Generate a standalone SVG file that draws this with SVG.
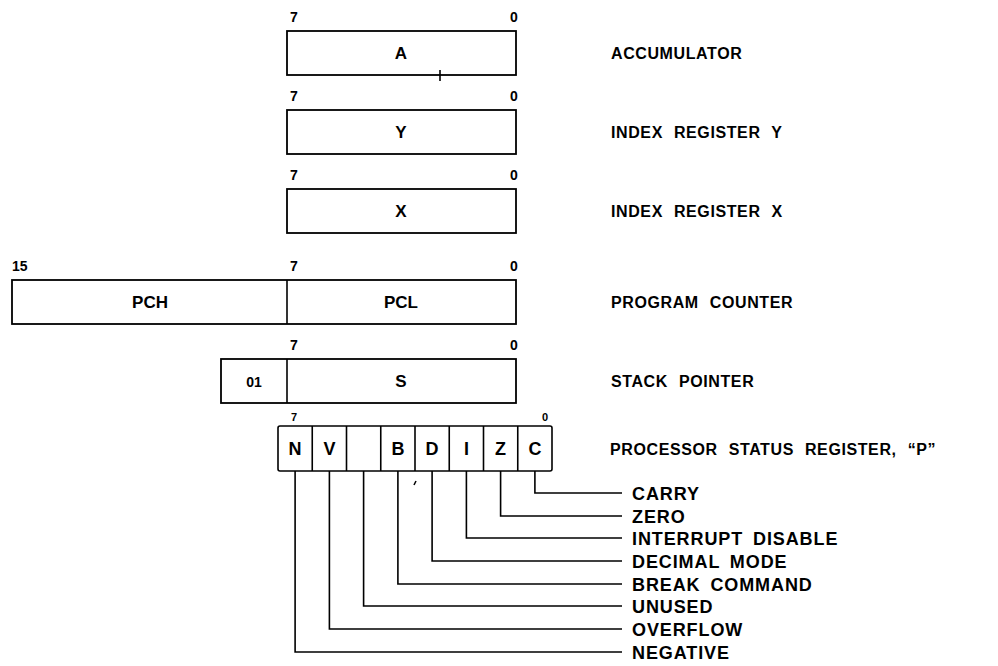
<svg xmlns="http://www.w3.org/2000/svg" width="998" height="666" viewBox="0 0 998 666">
<style>
  .box{fill:#fff;stroke:#000;stroke-width:1.8}
  .cell{fill:#fff;stroke:#000;stroke-width:1.6}
  .ln{fill:none;stroke:#000;stroke-width:1.6}
  text{font-family:"Liberation Sans",Arial,Helvetica,sans-serif;font-weight:bold;fill:#000}
  .bit{font-size:14px}
  .sbit{font-size:11px}
  .in{font-size:17px;text-anchor:middle}
  .fl{font-size:18px;text-anchor:middle}
  .reg{font-size:16px;letter-spacing:0.6px;word-spacing:6px}
  .leg{font-size:18px;letter-spacing:0.9px;word-spacing:4px}
</style>
<rect width="998" height="666" fill="#fff"/>

<g id="reg-A">
  <text class="bit" x="290" y="22">7</text>
  <text class="bit" x="510" y="22">0</text>
  <rect class="box" x="287" y="31" width="229" height="44"/>
  <text class="in" x="401" y="59">A</text>
  <line class="ln" x1="440" y1="70" x2="440" y2="81" stroke-width="1"/>
  <text class="reg" x="611" y="59">ACCUMULATOR</text>
</g>

<g id="reg-Y">
  <text class="bit" x="290" y="101">7</text>
  <text class="bit" x="510" y="101">0</text>
  <rect class="box" x="287" y="110" width="229" height="44"/>
  <text class="in" x="401" y="138">Y</text>
  <text class="reg" x="611" y="138">INDEX REGISTER Y</text>
</g>

<g id="reg-X">
  <text class="bit" x="290" y="180">7</text>
  <text class="bit" x="510" y="180">0</text>
  <rect class="box" x="287" y="189" width="229" height="44"/>
  <text class="in" x="401" y="217">X</text>
  <text class="reg" x="611" y="217">INDEX REGISTER X</text>
</g>

<g id="reg-PC">
  <text class="bit" x="12" y="271">15</text>
  <text class="bit" x="290" y="271">7</text>
  <text class="bit" x="510" y="271">0</text>
  <rect class="box" x="12" y="280" width="504" height="44"/>
  <line class="ln" x1="287" y1="280" x2="287" y2="324" stroke-width="1.8"/>
  <text class="in" x="150" y="308">PCH</text>
  <text class="in" x="401" y="308">PCL</text>
  <text class="reg" x="611" y="308">PROGRAM COUNTER</text>
</g>

<g id="reg-S">
  <text class="bit" x="290" y="350">7</text>
  <text class="bit" x="510" y="350">0</text>
  <rect class="box" x="221" y="359" width="295" height="44"/>
  <line class="ln" x1="287" y1="359" x2="287" y2="403" stroke-width="1.8"/>
  <text class="in" x="254" y="387" style="font-size:14px">01</text>
  <text class="in" x="401" y="387">S</text>
  <text class="reg" x="611" y="387">STACK POINTER</text>
</g>

<g id="reg-P">
  <text class="sbit" x="291" y="421">7</text>
  <text class="sbit" x="542" y="421">0</text>
  <rect class="cell" x="278" y="426" width="274" height="45" rx="2"/>
  <line class="ln" x1="312.25" y1="426" x2="312.25" y2="471"/>
  <line class="ln" x1="346.5" y1="426" x2="346.5" y2="471"/>
  <line class="ln" x1="380.75" y1="426" x2="380.75" y2="471"/>
  <line class="ln" x1="415" y1="426" x2="415" y2="471"/>
  <line class="ln" x1="449.25" y1="426" x2="449.25" y2="471"/>
  <line class="ln" x1="483.5" y1="426" x2="483.5" y2="471"/>
  <line class="ln" x1="517.75" y1="426" x2="517.75" y2="471"/>
  <text class="fl" x="295.1" y="455">N</text>
  <text class="fl" x="329.4" y="455">V</text>
  <text class="fl" x="397.9" y="455">B</text>
  <text class="fl" x="432.1" y="455">D</text>
  <text class="fl" x="466.4" y="455">I</text>
  <text class="fl" x="500.6" y="455">Z</text>
  <text class="fl" x="534.9" y="455">C</text>
  <line class="ln" x1="416" y1="481" x2="414" y2="485" stroke-width="1.5"/>
  <text class="reg" x="610" y="455">PROCESSOR STATUS REGISTER, “P”</text>
</g>

<g id="connectors">
  <path class="ln" d="M534.9 471 V493 H622"/>
  <path class="ln" d="M500.6 471 V516 H622"/>
  <path class="ln" d="M466.4 471 V538 H622"/>
  <path class="ln" d="M432.1 471 V561 H622"/>
  <path class="ln" d="M397.9 471 V584 H622"/>
  <path class="ln" d="M363.6 471 V606 H622"/>
  <path class="ln" d="M329.4 471 V629 H622"/>
  <path class="ln" d="M295.1 471 V652 H622"/>
</g>

<g id="legend">
  <text class="leg" x="632" y="500">CARRY</text>
  <text class="leg" x="632" y="523">ZERO</text>
  <text class="leg" x="632" y="545">INTERRUPT DISABLE</text>
  <text class="leg" x="632" y="568">DECIMAL MODE</text>
  <text class="leg" x="632" y="591">BREAK COMMAND</text>
  <text class="leg" x="632" y="613">UNUSED</text>
  <text class="leg" x="632" y="636">OVERFLOW</text>
  <text class="leg" x="632" y="659">NEGATIVE</text>
</g>
</svg>
